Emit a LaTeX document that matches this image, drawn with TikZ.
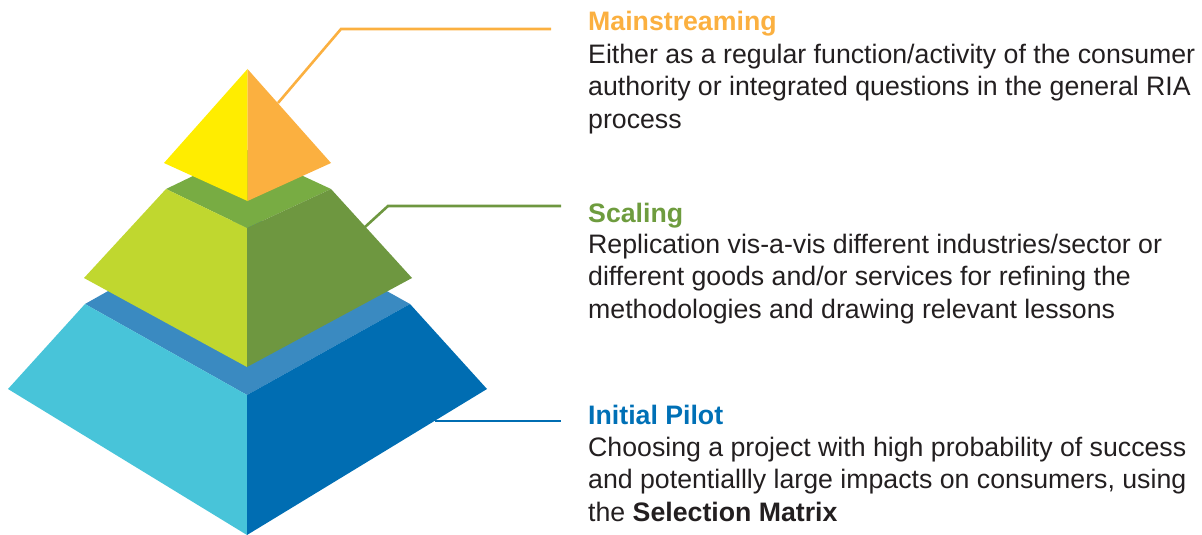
\documentclass[tikz,border=0pt]{standalone}
\usepackage{fontspec}
\setmainfont{Liberation Sans}
\usetikzlibrary{positioning}

\definecolor{capyellow}{HTML}{FFED00}
\definecolor{caporange}{HTML}{FBB040}
\definecolor{midtop}{HTML}{78AC43}
\definecolor{midleft}{HTML}{C0D72F}
\definecolor{midright}{HTML}{6E9740}
\definecolor{basetop}{HTML}{3A8AC1}
\definecolor{baseleft}{HTML}{48C4D9}
\definecolor{baseright}{HTML}{006DB2}
\definecolor{headgreen}{HTML}{6E9C3E}
\definecolor{headblue}{HTML}{0070B6}
\definecolor{textgray}{HTML}{231F20}

\tikzset{
    heading/.style={anchor=base west, inner sep=0pt,
        font=\bfseries\fontsize{26.7}{32.5}\selectfont},
    body/.style={anchor=base west, inner sep=0pt, align=left, text=textgray,
        font=\fontsize{26.7}{32.5}\selectfont},
    leader/.style={line width=2.6pt},
}

\begin{document}
\begin{tikzpicture}[x=1pt, y=-1pt]
        \useasboundingbox (0,0) rectangle (1202,535);

        % base tier
        \fill[basetop]   (85,304) -- (247,395) -- (410,304) -- (247,213) -- cycle;
        \fill[baseleft]  (85,304) -- (247,395) -- (247,535) -- (8,389) -- cycle;
        \fill[baseright] (410,304) -- (247,395) -- (247,535) -- (487,389) -- cycle;

        % middle tier
        \fill[midtop]   (166,189) -- (247,228) -- (331,189) -- (247,150) -- cycle;
        \fill[midleft]  (166,189) -- (247,228) -- (247,367) -- (84,278) -- cycle;
        \fill[midright] (331,189) -- (247,228) -- (247,367) -- (412,278) -- cycle;

        % top
        \fill[capyellow] (247.5,69) -- (164,163) -- (247.5,201) -- cycle;
        \fill[caporange] (247.5,69) -- (331,163) -- (247.5,201) -- cycle;

        % texts (body anchored at the baseline of its last line)
        \node[heading, text=caporange] (mhead) at (588,31) {Mainstreaming};
        \node[body] (mbody) at (588,128)
            {Either as a regular function/activity of the consumer\\
             authority or integrated questions in the general RIA\\
             process};

        \node[heading, text=headgreen] (shead) at (588,222) {Scaling};
        \node[body] (sbody) at (588,318)
            {Replication vis-a-vis different industries/sector or\\
             different goods and/or services for refining the\\
             methodologies and drawing relevant lessons};

        \node[heading, text=headblue] (phead) at (588,424) {Initial Pilot};
        \node[body] (pbody) at (588,521)
            {Choosing a project with high probability of success\\
             and potentiallly large impacts on consumers, using\\
             the \textbf{Selection Matrix}};

        \coordinate (mfoot) at (278,103);
        \coordinate (mend)  at (551,29);
        \coordinate (sfoot) at (365,227);
        \coordinate (send)  at (561,206);
        \coordinate (pfoot) at (435,421);
        \coordinate (pend)  at (561,421);

        \draw[leader, caporange] (mfoot) -- (341,29) -- (mend);
        \draw[leader, midright] (sfoot) -- (388,206) -- (send);
        \draw[leader, baseright] (pfoot) -- (pend);
\end{tikzpicture}
\end{document}
